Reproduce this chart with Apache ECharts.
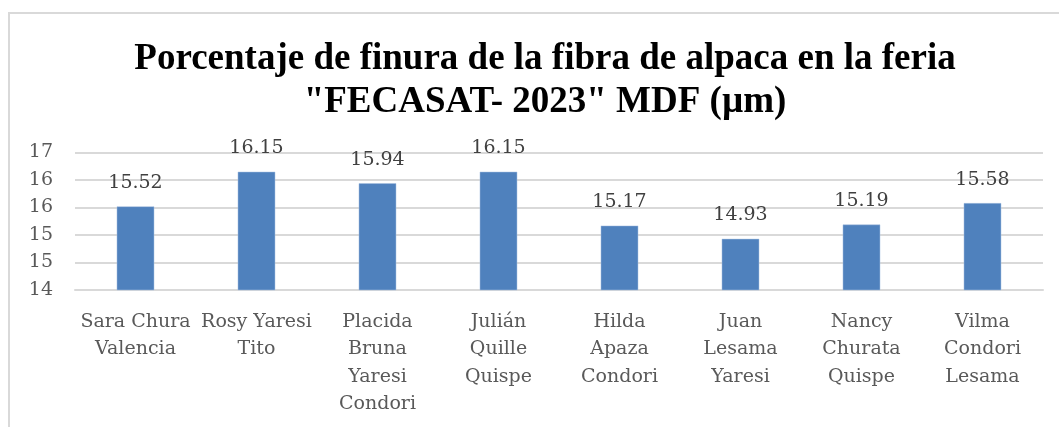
<!DOCTYPE html>
<html>
<head>
<meta charset="utf-8">
<script src="https://cdn.jsdelivr.net/npm/echarts@6/dist/echarts.min.js"></script>
<style>
  html, body { margin: 0; padding: 0; background: #fff; }
  #chart { width: 1059px; height: 427px; }
</style>
</head>
<body>
<div id="chart"></div>
<script>
// categorías (con los saltos de línea como en la figura)
const categories = [
  'Sara Chura\nValencia',
  'Rosy Yaresi\nTito',
  'Placida\nBruna\nYaresi\nCondori',
  'Julián\nQuille\nQuispe',
  'Hilda\nApaza\nCondori',
  'Juan\nLesama\nYaresi',
  'Nancy\nChurata\nQuispe',
  'Vilma\nCondori\nLesama'
]
// MDF (µm)
const mdfValues = [15.52, 16.15, 15.94, 16.15, 15.17, 14.93, 15.19, 15.58]
const yMin = 14
const yMax = 16.5
const yStep = 0.5

const serif = 'DejaVu Serif'
const chart = echarts.init(document.getElementById('chart'))
const option = {
  backgroundColor: '#fff',
  animation: false,
  graphic: [
    {
      type: 'rect',
      shape: { x: 9, y: 13, width: 1080, height: 440 },
      style: { fill: 'none', stroke: '#d9d9d9', lineWidth: 2 },
      silent: true
    }
  ],
  title: {
    text: 'Porcentaje de finura de la fibra de alpaca en la feria\n"FECASAT- 2023" MDF (µm)',
    left: 540,
    top: 33,
    textAlign: 'center',
    textStyle: {
      fontFamily: 'Liberation Serif',
      fontWeight: 'bold',
      fontSize: 37,
      lineHeight: 43,
      color: '#000'
    }
  },
  grid: {
    left: 75,
    right: 16,
    top: 152.5,
    bottom: 137
  },
  xAxis: {
    type: 'category',
    data: categories,
    axisLine: { show: true, lineStyle: { color: '#d9d9d9', width: 2 } },
    axisTick: { show: false },
    axisLabel: {
      interval: 0,
      margin: 18,
      fontFamily: serif,
      fontSize: 19,
      lineHeight: 27.5,
      color: '#595959'
    }
  },
  yAxis: {
    type: 'value',
    min: yMin,
    max: yMax,
    interval: yStep,
    axisLine: { show: false },
    axisTick: { show: false },
    splitLine: { lineStyle: { color: '#d9d9d9', width: 2 } },
    axisLabel: {
      margin: 22,
      fontFamily: serif,
      fontSize: 19,
      color: '#595959',
      formatter: (v) => Math.round(v).toString()
    }
  },
  series: [
    {
      type: 'bar',
      data: mdfValues,
      barWidth: '31%',
      itemStyle: { color: '#4f81bd', borderColor: '#a9c1e0', borderWidth: 0.5 },
      label: {
        show: true,
        position: 'top',
        distance: 14,
        fontFamily: serif,
        fontSize: 19,
        color: '#404040',
        formatter: (p) => p.value.toFixed(2)
      }
    }
  ]
}
chart.setOption(option)
</script>
</body>
</html>
